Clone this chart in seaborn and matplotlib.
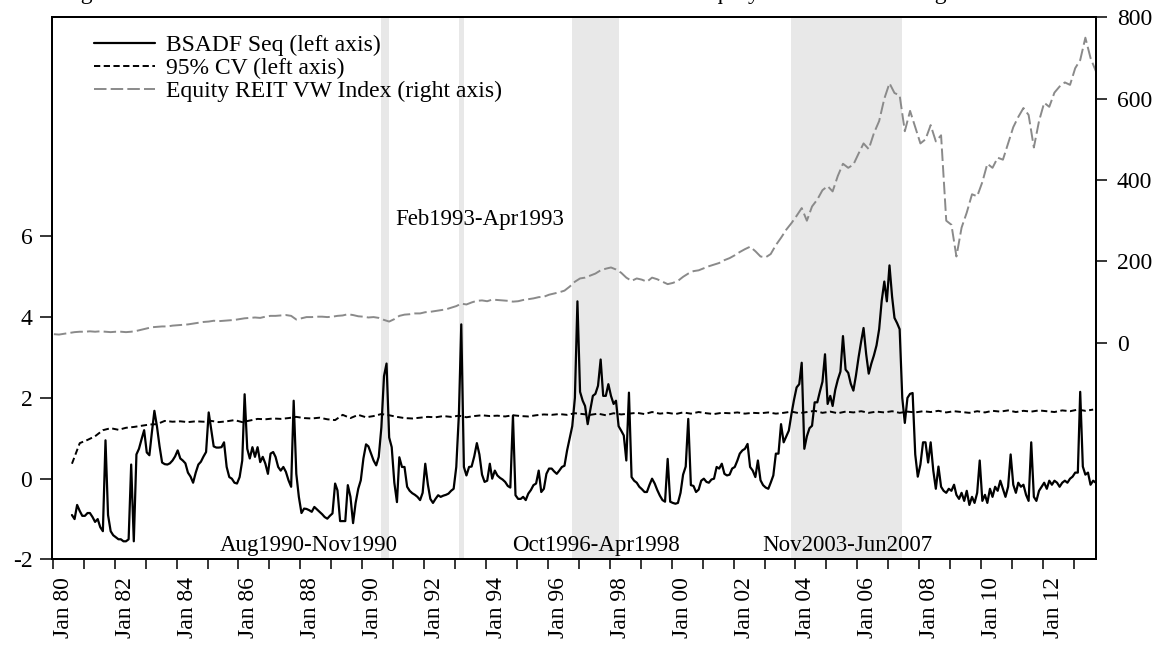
"""
BSADF bubble date-stamping chart for the Equity REIT VW Index.
Left axis: BSADF sequence and 95% critical values; right axis: index level.
"""

import pandas as pd
import matplotlib
matplotlib.use("Agg")
import matplotlib.pyplot as plt
import matplotlib.dates as mdates
from matplotlib.ticker import FuncFormatter
import seaborn as sns

# BSADF statistic, monthly Aug 1980 - Sep 2013
bsadf = [
    -0.90, -1.00, -0.65, -0.80, -0.92,                                            # 1980 (Aug-Dec)
    -0.92, -0.85, -0.85, -0.95, -1.07, -1.00, -1.20, -1.30, 0.95, -0.90, -1.30, -1.40,  # 1981
    -1.45, -1.50, -1.50, -1.55, -1.55, -1.50, 0.35, -1.55, 0.60, 0.74, 0.98, 1.20,     # 1982
    0.65, 0.58, 1.12, 1.68, 1.30, 0.80, 0.40, 0.36, 0.35, 0.38, 0.45, 0.55,            # 1983
    0.70, 0.50, 0.45, 0.38, 0.15, 0.05, -0.10, 0.15, 0.35, 0.42, 0.55, 0.66,           # 1984
    1.64, 1.20, 0.80, 0.77, 0.77, 0.78, 0.90, 0.29, 0.04, 0.00, -0.10, -0.12,          # 1985
    0.04, 0.45, 2.09, 0.74, 0.50, 0.78, 0.54, 0.78, 0.41, 0.54, 0.37, 0.12,            # 1986
    0.62, 0.66, 0.54, 0.29, 0.20, 0.29, 0.17, -0.04, -0.20, 1.93, 0.12, -0.45,         # 1987
    -0.85, -0.74, -0.75, -0.78, -0.82, -0.70, -0.76, -0.82, -0.88, -0.95, -0.99, -0.92,  # 1988
    -0.86, -0.12, -0.29, -1.05, -1.05, -1.05, -0.16, -0.45, -1.10, -0.60, -0.25, -0.04,  # 1989
    0.50, 0.85, 0.80, 0.62, 0.45, 0.33, 0.54, 1.27, 2.54, 2.85, 1.02, 0.78,            # 1990
    -0.10, -0.58, 0.53, 0.29, 0.29, -0.20, -0.30, -0.36, -0.40, -0.45, -0.53, -0.35,   # 1991
    0.37, -0.15, -0.50, -0.60, -0.50, -0.41, -0.45, -0.42, -0.40, -0.37, -0.30, -0.25,  # 1992
    0.29, 1.60, 3.82, 0.29, 0.08, 0.29, 0.30, 0.55, 0.88, 0.60, 0.10, -0.08,           # 1993
    -0.05, 0.37, 0.00, 0.20, 0.08, 0.02, -0.02, -0.08, -0.18, -0.22, 1.56, -0.41,      # 1994
    -0.50, -0.50, -0.45, -0.53, -0.37, -0.28, -0.16, -0.12, 0.20, -0.33, -0.25, 0.12,  # 1995
    0.25, 0.25, 0.18, 0.12, 0.20, 0.29, 0.32, 0.70, 1.00, 1.30, 2.00, 4.39,            # 1996
    2.15, 1.93, 1.80, 1.35, 1.70, 2.05, 2.10, 2.30, 2.95, 2.05, 2.05, 2.34,            # 1997
    2.05, 1.85, 1.93, 1.30, 1.19, 1.07, 0.45, 2.13, 0.04, -0.05, -0.10, -0.20,         # 1998
    -0.26, -0.33, -0.33, -0.15, 0.00, -0.12, -0.28, -0.42, -0.53, -0.57, 0.49, -0.57,  # 1999
    -0.60, -0.62, -0.60, -0.35, 0.10, 0.30, 1.48, -0.16, -0.18, -0.33, -0.27, -0.05,   # 2000
    0.00, -0.08, -0.10, -0.02, 0.00, 0.29, 0.25, 0.37, 0.12, 0.08, 0.10, 0.25,         # 2001
    0.29, 0.45, 0.62, 0.70, 0.74, 0.86, 0.29, 0.20, 0.04, 0.45, -0.04, -0.16,          # 2002
    -0.22, -0.25, -0.10, 0.08, 0.62, 0.62, 1.35, 0.90, 1.05, 1.19, 1.60, 1.95,         # 2003
    2.26, 2.34, 2.87, 0.74, 1.05, 1.25, 1.31, 1.89, 1.89, 2.15, 2.40, 3.08,            # 2004
    1.85, 2.05, 1.80, 2.20, 2.45, 2.65, 3.53, 2.70, 2.62, 2.35, 2.18, 2.55,            # 2005
    3.00, 3.40, 3.73, 3.08, 2.60, 2.85, 3.05, 3.30, 3.70, 4.40, 4.88, 4.39,            # 2006
    5.28, 4.50, 3.98, 3.85, 3.70, 2.00, 1.38, 2.00, 2.10, 2.12, 0.60, 0.05,            # 2007
    0.35, 0.90, 0.90, 0.40, 0.90, 0.20, -0.25, 0.30, -0.20, -0.30, -0.35, -0.25,       # 2008
    -0.30, -0.15, -0.40, -0.50, -0.35, -0.55, -0.30, -0.65, -0.45, -0.60, -0.35, 0.45,  # 2009
    -0.55, -0.40, -0.60, -0.25, -0.45, -0.20, -0.30, -0.05, -0.25, -0.45, -0.20, 0.60,  # 2010
    -0.15, -0.35, -0.10, -0.20, -0.15, -0.40, -0.55, 0.90, -0.45, -0.55, -0.30, -0.20,  # 2011
    -0.10, -0.25, -0.05, -0.15, -0.05, -0.10, -0.20, -0.10, -0.05, -0.10, 0.00, 0.05,  # 2012
    0.15, 0.15, 2.15, 0.30, 0.10, 0.15, -0.15, -0.05, -0.10,                          # 2013 (Jan-Sep)
]

# 95% critical values, quarterly from Aug 1980
cv95 = [
    0.37, 0.88, 0.96, 1.05, 1.20, 1.25, 1.21, 1.26, 1.28, 1.31,
    1.34, 1.35, 1.43, 1.41, 1.42, 1.40, 1.42, 1.41, 1.43, 1.40,
    1.42, 1.45, 1.40, 1.44, 1.48, 1.47, 1.49, 1.48, 1.50, 1.53,
    1.50, 1.49, 1.51, 1.47, 1.45, 1.58, 1.50, 1.58, 1.52, 1.55,
    1.60, 1.57, 1.53, 1.50, 1.49, 1.51, 1.53, 1.52, 1.55, 1.53,
    1.56, 1.52, 1.55, 1.57, 1.55, 1.56, 1.54, 1.57, 1.55, 1.54,
    1.57, 1.59, 1.58, 1.60, 1.58, 1.62, 1.60, 1.58, 1.61, 1.57,
    1.62, 1.59, 1.61, 1.63, 1.60, 1.65, 1.61, 1.63, 1.60, 1.64,
    1.61, 1.65, 1.62, 1.60, 1.63, 1.62, 1.64, 1.61, 1.63, 1.62,
    1.64, 1.61, 1.63, 1.66, 1.62, 1.65, 1.68, 1.63, 1.66, 1.62,
    1.66, 1.64, 1.67, 1.63, 1.66, 1.64, 1.67, 1.63, 1.66, 1.64,
    1.67, 1.65, 1.68, 1.64, 1.67, 1.65, 1.63, 1.67, 1.64, 1.68,
    1.66, 1.69, 1.65, 1.68, 1.66, 1.69, 1.67, 1.65, 1.69, 1.67,
    1.71, 1.68, 1.71,
]

# Equity REIT VW index, every second month from Jan 1980
reit_index = [
    21, 20, 22, 24, 26, 27, 27, 28, 27, 28,
    27, 26, 27, 27, 26, 27, 29, 32, 35, 38,
    39, 40, 40, 42, 43, 44, 45, 47, 49, 51,
    52, 54, 53, 54, 55, 56, 58, 60, 61, 62,
    61, 64, 66, 66, 67, 68, 66, 57, 60, 63,
    63, 64, 64, 63, 64, 66, 67, 70, 68, 65,
    64, 62, 63, 61, 56, 52, 58, 66, 69, 70,
    72, 72, 75, 76, 78, 80, 82, 86, 90, 96,
    94, 99, 103, 104, 102, 106, 105, 104, 103, 101,
    102, 105, 107, 109, 112, 113, 118, 121, 124, 128,
    138, 150, 158, 160, 165, 170, 178, 182, 185, 180,
    172, 160, 152, 158, 155, 150, 160, 156, 150, 144,
    147, 152, 162, 170, 176, 178, 183, 188, 192, 196,
    203, 208, 215, 223, 230, 236, 225, 212, 210, 218,
    240, 258, 278, 294, 312, 331, 300, 335, 352, 375,
    385, 372, 410, 440, 430, 438, 465, 490, 476, 515,
    545, 600, 638, 614, 608, 520, 570, 530, 490, 500,
    535, 495, 510, 300, 290, 212, 283, 320, 365, 360,
    395, 440, 430, 455, 450, 490, 530, 555, 577, 560,
    480, 545, 590, 580, 615, 630, 640, 634, 675, 695,
    750, 700, 668,
]

# detected bubble periods (start, end, label)
bubble_starts = ["1990-08-15", "1993-02-15", "1996-10-15", "2003-11-15"]
bubble_ends = ["1990-11-15", "1993-04-15", "1998-04-15", "2007-06-15"]
bubble_labels = ["Aug1990-Nov1990", "Feb1993-Apr1993", "Oct1996-Apr1998", "Nov2003-Jun2007"]

TITLE = ("Figure 5: The BSADF statistic and detected bubble intervals in the "
         "Equity REIT market using the GSADF test")

sns.set_style("ticks", {"axes.edgecolor": "black", "xtick.color": "black",
                        "ytick.color": "black", "text.color": "black"})
plt.rcParams["font.family"] = ["Liberation Serif", "DejaVu Serif"]
plt.rcParams["axes.unicode_minus"] = False
plt.rcParams["lines.scale_dashes"] = False

half_month = pd.Timedelta(days=14)
bsadf_dates = pd.date_range("1980-08-01", periods=len(bsadf), freq="MS") + half_month
cv_dates = pd.date_range("1980-08-01", periods=len(cv95), freq="3MS") + half_month
reit_dates = pd.date_range("1980-01-01", periods=len(reit_index), freq="2MS") + half_month

fig = plt.figure(figsize=(11.67, 6.45), dpi=100)
ax = fig.add_axes([0.0443, 0.1326, 0.8949, 0.8405])
ax2 = ax.twinx()

for start, end in zip(bubble_starts, bubble_ends):
    ax.axvspan(pd.Timestamp(start), pd.Timestamp(end), color="#e8e8e8", lw=0, zorder=0)

sns.lineplot(x=bsadf_dates, y=bsadf, ax=ax, color="black", lw=1.6,
             estimator=None, legend=False, label="BSADF Seq (left axis)")
sns.lineplot(x=cv_dates, y=cv95, ax=ax, color="black", lw=1.4,
             linestyle=(0, (4.5, 2.5)), estimator=None, legend=False,
             label="95% CV (left axis)")
sns.lineplot(x=reit_dates, y=reit_index, ax=ax2, color="#8a8a8a", lw=1.4,
             linestyle=(0, (9, 3)), estimator=None, legend=False,
             label="Equity REIT VW Index (right axis)")

ax.set_xlim(pd.Timestamp("1979-12-20"), pd.Timestamp("2013-09-18"))
ax.set_ylim(-2, 11.42)
ax2.set_ylim(-533, 800)
ax.set_yticks([-2, 0, 2, 4, 6])
ax2.set_yticks([0, 200, 400, 600, 800])
ax.set_xlabel("")
ax.set_ylabel("")
ax2.set_ylabel("")

ax.xaxis.set_major_locator(mdates.YearLocator(1))
ax.xaxis.set_major_formatter(FuncFormatter(
    lambda v, pos: (f"Jan {mdates.num2date(v).year % 100:02d}"
                    if mdates.num2date(v).year % 2 == 0 else "")))
for lab in ax.get_xticklabels():
    lab.set_rotation(90)
    lab.set_ha("left")

ax.tick_params(axis="x", length=7.5, width=1.1, pad=5, labelsize=17)
ax.tick_params(axis="y", length=9, width=1.1, pad=5, labelsize=17)
ax2.tick_params(axis="y", length=8, width=1.1, pad=7, labelsize=17)
for a in (ax, ax2):
    for sp in a.spines.values():
        sp.set_linewidth(1.4)
        sp.set_color("black")

label_pos = [(0.2464, 0.025), (0.4101, 0.628), (0.5212, 0.025), (0.7616, 0.025)]
for text, (tx, ty) in zip(bubble_labels, label_pos):
    ax.text(tx, ty, text, transform=ax.transAxes, ha="center", va="center", fontsize=16.5)

handles = ax.get_lines()[:2] + ax2.get_lines()[:1]
ax2.legend(handles, [h.get_label() for h in handles], loc="upper left",
           bbox_to_anchor=(0.0405, 0.968), frameon=False, fontsize=17,
           handlelength=2.6, handletextpad=0.45, labelspacing=0.06,
           borderpad=0, borderaxespad=0)

# figure caption sits above the canvas, only its lowest strokes are visible
fig.text(61 / 1167, 1 + 1.5 / 645, TITLE, ha="left", va="baseline", fontsize=17)

fig.savefig("out.png", dpi=100)
